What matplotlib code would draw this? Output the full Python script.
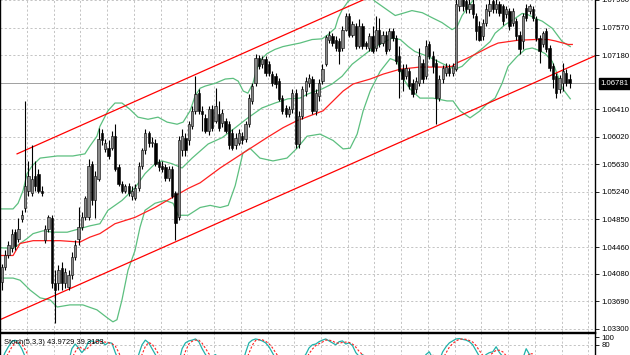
import matplotlib
matplotlib.use('Agg')
import matplotlib.pyplot as plt
import numpy as np

plt.rcParams['font.family'] = ['Liberation Sans', 'DejaVu Sans']

# ---------------- data (EURUSD-like candles) ----------------
opens = [
 1.0396, 1.0418, 1.0434, 1.0444, 1.0467, 1.0458, 1.0485, 1.0501, 1.0526, 1.0523,
 1.0547, 1.0550, 1.0526, 1.0456, 1.0472, 1.0487, 1.0395, 1.0395, 1.0416, 1.0395,
 1.0389, 1.0406, 1.0432, 1.0458, 1.0474, 1.0488, 1.0488, 1.0564, 1.0512, 1.0543,
 1.0607, 1.0585, 1.0587, 1.0587, 1.0604, 1.0559, 1.0535, 1.0526, 1.0533, 1.0519,
 1.0516, 1.0530, 1.0561, 1.0583, 1.0607, 1.0594, 1.0594, 1.0566, 1.0561, 1.0559,
 1.0544, 1.0557, 1.0522, 1.0488, 1.0583, 1.0601, 1.0597, 1.0618, 1.0639, 1.0664,
 1.0639, 1.0629, 1.0611, 1.0642, 1.0625, 1.0635, 1.0622, 1.0625, 1.0621, 1.0608,
 1.0590, 1.0594, 1.0604, 1.0599, 1.0621, 1.0653, 1.0678, 1.0714, 1.0705, 1.0712,
 1.0705, 1.0691, 1.0688, 1.0681, 1.0657, 1.0643, 1.0635, 1.0642, 1.0664, 1.0592,
 1.0632, 1.0667, 1.0678, 1.0684, 1.0639, 1.0660, 1.0681, 1.0705, 1.0740, 1.0745,
 1.0740, 1.0738, 1.0728, 1.0754, 1.0773, 1.0747, 1.0759, 1.0731, 1.0759, 1.0735,
 1.0728, 1.0745, 1.0728, 1.0754, 1.0735, 1.0747, 1.0726, 1.0752, 1.0742, 1.0716,
 1.0698, 1.0688, 1.0695, 1.0678, 1.0670, 1.0678, 1.0707, 1.0688, 1.0733, 1.0716,
 1.0707, 1.0657, 1.0684, 1.0692, 1.0700, 1.0692, 1.0698, 1.0787, 1.0797, 1.0794,
 1.0783, 1.0791, 1.0773, 1.0759, 1.0745, 1.0763, 1.0780, 1.0794, 1.0783, 1.0790,
 1.0787, 1.0776, 1.0780, 1.0763, 1.0766, 1.0747, 1.0738, 1.0784, 1.0780, 1.0783,
 1.0769, 1.0742, 1.0733, 1.0752, 1.0728, 1.0702, 1.0688, 1.0670, 1.0678, 1.0692,
 1.0684]
highs = [
 1.0422, 1.0442, 1.0454, 1.0472, 1.0472, 1.0487, 1.0498, 1.0653, 1.0568, 1.0590,
 1.0568, 1.0557, 1.0532, 1.0477, 1.0492, 1.0491, 1.0413, 1.0420, 1.0425, 1.0416,
 1.0413, 1.0439, 1.0456, 1.0502, 1.0495, 1.0519, 1.0571, 1.0568, 1.0554, 1.0615,
 1.0613, 1.0599, 1.0597, 1.0611, 1.0621, 1.0564, 1.0540, 1.0536, 1.0537, 1.0532,
 1.0536, 1.0566, 1.0587, 1.0613, 1.0611, 1.0602, 1.0599, 1.0571, 1.0568, 1.0564,
 1.0561, 1.0561, 1.0526, 1.0604, 1.0613, 1.0607, 1.0625, 1.0646, 1.0688, 1.0670,
 1.0646, 1.0635, 1.0646, 1.0647, 1.0671, 1.0653, 1.0642, 1.0629, 1.0625, 1.0613,
 1.0607, 1.0613, 1.0609, 1.0625, 1.0663, 1.0678, 1.0719, 1.0718, 1.0716, 1.0716,
 1.0709, 1.0695, 1.0692, 1.0685, 1.0661, 1.0647, 1.0646, 1.0670, 1.0670, 1.0639,
 1.0674, 1.0687, 1.0691, 1.0688, 1.0670, 1.0684, 1.0705, 1.0747, 1.0752, 1.0749,
 1.0745, 1.0742, 1.0759, 1.0777, 1.0777, 1.0766, 1.0763, 1.0769, 1.0763, 1.0738,
 1.0749, 1.0759, 1.0773, 1.0770, 1.0752, 1.0752, 1.0756, 1.0756, 1.0747, 1.0731,
 1.0705, 1.0705, 1.0700, 1.0684, 1.0687, 1.0728, 1.0712, 1.0740, 1.0738, 1.0724,
 1.0712, 1.0690, 1.0704, 1.0707, 1.0705, 1.0707, 1.0801, 1.0805, 1.0805, 1.0802,
 1.0800, 1.0798, 1.0777, 1.0766, 1.0769, 1.0790, 1.0798, 1.0801, 1.0797, 1.0794,
 1.0791, 1.0788, 1.0785, 1.0784, 1.0771, 1.0752, 1.0777, 1.0791, 1.0791, 1.0787,
 1.0773, 1.0747, 1.0752, 1.0756, 1.0732, 1.0707, 1.0692, 1.0690, 1.0707, 1.0698,
 1.0691]
lows = [
 1.0385, 1.0413, 1.0430, 1.0439, 1.0442, 1.0453, 1.0481, 1.0495, 1.0519, 1.0518,
 1.0526, 1.0522, 1.0518, 1.0451, 1.0467, 1.0388, 1.0339, 1.0385, 1.0385, 1.0388,
 1.0385, 1.0401, 1.0427, 1.0449, 1.0470, 1.0484, 1.0484, 1.0505, 1.0487, 1.0540,
 1.0590, 1.0580, 1.0571, 1.0583, 1.0554, 1.0532, 1.0522, 1.0523, 1.0518, 1.0512,
 1.0512, 1.0526, 1.0557, 1.0578, 1.0588, 1.0588, 1.0561, 1.0554, 1.0552, 1.0540,
 1.0540, 1.0515, 1.0456, 1.0484, 1.0575, 1.0575, 1.0590, 1.0613, 1.0635, 1.0635,
 1.0611, 1.0607, 1.0605, 1.0611, 1.0622, 1.0611, 1.0616, 1.0607, 1.0585, 1.0583,
 1.0585, 1.0590, 1.0592, 1.0595, 1.0616, 1.0649, 1.0674, 1.0698, 1.0700, 1.0688,
 1.0688, 1.0674, 1.0671, 1.0653, 1.0635, 1.0630, 1.0630, 1.0636, 1.0587, 1.0587,
 1.0628, 1.0660, 1.0673, 1.0635, 1.0633, 1.0653, 1.0677, 1.0702, 1.0735, 1.0731,
 1.0724, 1.0705, 1.0724, 1.0752, 1.0743, 1.0743, 1.0726, 1.0728, 1.0726, 1.0726,
 1.0724, 1.0721, 1.0724, 1.0729, 1.0731, 1.0719, 1.0724, 1.0738, 1.0705, 1.0657,
 1.0667, 1.0684, 1.0670, 1.0659, 1.0664, 1.0674, 1.0678, 1.0684, 1.0712, 1.0692,
 1.0621, 1.0653, 1.0678, 1.0688, 1.0688, 1.0688, 1.0695, 1.0780, 1.0780, 1.0777,
 1.0777, 1.0771, 1.0740, 1.0738, 1.0740, 1.0759, 1.0774, 1.0777, 1.0777, 1.0773,
 1.0760, 1.0770, 1.0754, 1.0759, 1.0740, 1.0719, 1.0726, 1.0766, 1.0776, 1.0766,
 1.0738, 1.0707, 1.0729, 1.0722, 1.0695, 1.0671, 1.0657, 1.0664, 1.0667, 1.0674,
 1.0671]
closes = [
 1.0418, 1.0434, 1.0449, 1.0465, 1.0447, 1.0472, 1.0492, 1.0533, 1.0546, 1.0543,
 1.0532, 1.0526, 1.0523, 1.0472, 1.0488, 1.0395, 1.0385, 1.0413, 1.0395, 1.0411,
 1.0406, 1.0432, 1.0449, 1.0474, 1.0488, 1.0515, 1.0561, 1.0512, 1.0547, 1.0599,
 1.0597, 1.0594, 1.0575, 1.0604, 1.0557, 1.0536, 1.0526, 1.0532, 1.0523, 1.0526,
 1.0530, 1.0561, 1.0583, 1.0607, 1.0594, 1.0595, 1.0564, 1.0559, 1.0557, 1.0544,
 1.0557, 1.0519, 1.0480, 1.0597, 1.0604, 1.0583, 1.0621, 1.0639, 1.0663, 1.0639,
 1.0635, 1.0611, 1.0642, 1.0615, 1.0646, 1.0615, 1.0636, 1.0611, 1.0590, 1.0587,
 1.0601, 1.0607, 1.0597, 1.0621, 1.0657, 1.0674, 1.0714, 1.0702, 1.0712, 1.0692,
 1.0692, 1.0678, 1.0677, 1.0656, 1.0639, 1.0635, 1.0642, 1.0664, 1.0592, 1.0632,
 1.0670, 1.0681, 1.0685, 1.0639, 1.0664, 1.0678, 1.0698, 1.0743, 1.0747, 1.0735,
 1.0728, 1.0724, 1.0754, 1.0773, 1.0747, 1.0762, 1.0731, 1.0759, 1.0731, 1.0731,
 1.0745, 1.0724, 1.0754, 1.0733, 1.0747, 1.0724, 1.0752, 1.0742, 1.0709, 1.0695,
 1.0684, 1.0700, 1.0674, 1.0663, 1.0681, 1.0716, 1.0684, 1.0731, 1.0716, 1.0702,
 1.0657, 1.0684, 1.0700, 1.0701, 1.0692, 1.0702, 1.0790, 1.0798, 1.0787, 1.0783,
 1.0791, 1.0776, 1.0752, 1.0740, 1.0763, 1.0783, 1.0791, 1.0783, 1.0790, 1.0777,
 1.0766, 1.0783, 1.0759, 1.0780, 1.0745, 1.0726, 1.0773, 1.0770, 1.0787, 1.0770,
 1.0742, 1.0724, 1.0749, 1.0726, 1.0700, 1.0684, 1.0664, 1.0685, 1.0695, 1.0678,
 1.06781]

# Bollinger bands (read at bar positions)
bb_up_bar = [-0.5, 3.4, 4.9, 6.4, 7.6, 9.1, 11.5, 16.6, 21.3, 24.9, 26.4, 28.5, 29.4, 31.8,
             33.9, 36.0, 38.4, 40.8, 43.8, 46.8, 49.5, 52.5, 54.3, 56.4, 57.9, 59.4, 60.9,
             63.9, 66.9, 69.3, 70.8, 72.3, 73.7, 75.2, 76.4, 77.9, 79.4, 81.8, 84.2, 87.2,
             89.3, 92.9, 95.9, 97.7, 99.8, 100.7, 101.9, 103.7, 107.3, 110.3, 111.8, 114.8,
             117.8, 120.7, 122.8, 125.9, 128.8, 131.8, 134.8, 136.3, 137.8, 140.2, 142.0,
             146.2, 152.2, 158.2, 164.2, 170.2]
bb_upper = [1.0500, 1.0500, 1.0508, 1.0526, 1.0550, 1.0561, 1.0572, 1.0575, 1.0575, 1.0578,
            1.0589, 1.0603, 1.0617, 1.0639, 1.0650, 1.0650, 1.0641, 1.0630, 1.0627, 1.0630,
            1.0623, 1.0620, 1.0623, 1.0639, 1.0660, 1.0671, 1.0674, 1.0678, 1.0684, 1.0685,
            1.0681, 1.0667, 1.0664, 1.0678, 1.0699, 1.0713, 1.0720, 1.0726, 1.0730, 1.0733,
            1.0735, 1.0740, 1.0741, 1.0747, 1.0756, 1.0770, 1.0782, 1.0794, 1.0805, 1.0802,
            1.0794, 1.0784, 1.0774, 1.0778, 1.0781, 1.0778, 1.0771, 1.0764, 1.0754, 1.0758,
            1.0774, 1.0790, 1.0801, 1.0825, 1.0822, 1.0823, 1.0808, 1.0805]
bb_mid_bar = [-0.5, 3.4, 5.5, 7.6, 9.4, 12.4, 15.4, 19.6, 23.4, 26.4, 29.4, 31.8, 36.0, 39.9,
              42.9, 45.9, 48.0, 51.0, 54.0, 57.0, 59.4, 61.8, 66.0, 69.9, 73.7, 77.9, 81.8,
              85.7, 89.3, 91.7, 95.9, 98.9, 101.9, 104.9, 107.9, 110.9, 113.9, 116.9, 119.3,
              121.7, 123.7, 127.6, 130.6, 133.6, 135.7, 137.8, 140.8, 143.8, 146.2, 147.7,
              150.7, 153.7, 155.8, 157.6, 159.7, 161.8, 164.8, 167.8, 170.2]
bb_middle = [1.0445, 1.0444, 1.0451, 1.0458, 1.0465, 1.0469, 1.0467, 1.0467, 1.0472, 1.0476,
             1.0479, 1.0498, 1.0512, 1.0530, 1.0550, 1.0564, 1.0568, 1.0564, 1.0558, 1.0572,
             1.0582, 1.0592, 1.0601, 1.0615, 1.0629, 1.0643, 1.0650, 1.0656, 1.0657, 1.0663,
             1.0670, 1.0677, 1.0688, 1.0705, 1.0716, 1.0727, 1.0735, 1.0742, 1.0740, 1.0730,
             1.0723, 1.0716, 1.0709, 1.0702, 1.0698, 1.0702, 1.0716, 1.0727, 1.0737, 1.0749,
             1.0761, 1.0770, 1.0777, 1.0775, 1.0770, 1.0766, 1.0756, 1.0737, 1.0730]
bb_low_bar = [-0.5, 3.4, 5.5, 8.5, 11.5, 14.5, 16.6, 20.4, 24.3, 28.5, 31.8, 33.3, 34.5, 36.0,
              37.8, 39.9, 41.4, 42.9, 45.9, 48.9, 51.3, 52.8, 55.8, 59.4, 62.4, 65.4, 67.8,
              69.9, 72.2, 74.3, 77.3, 81.2, 85.4, 88.4, 91.4, 95.3, 99.2, 102.2, 104.3, 106.4,
              108.2, 110.3, 113.3, 116.3, 118.4, 120.2, 122.2, 125.2, 129.1, 133.3, 135.1,
              137.2, 140.2, 143.2, 145.3, 147.7, 149.8, 151.6, 154.3, 156.7, 158.8, 160.6,
              162.7, 164.8, 166.3, 167.8, 170.2]
bb_lower = [1.0402, 1.0402, 1.0399, 1.0385, 1.0374, 1.0371, 1.0361, 1.0364, 1.0364, 1.0357,
            1.0345, 1.0340, 1.0343, 1.0371, 1.0413, 1.0441, 1.0474, 1.0498, 1.0508, 1.0512,
            1.0508, 1.0491, 1.0491, 1.0502, 1.0505, 1.0502, 1.0505, 1.0533, 1.0579, 1.0586,
            1.0572, 1.0568, 1.0572, 1.0586, 1.0603, 1.0606, 1.0597, 1.0585, 1.0586, 1.0606,
            1.0639, 1.0667, 1.0695, 1.0713, 1.0709, 1.0685, 1.0670, 1.0657, 1.0657, 1.0653,
            1.0653, 1.0639, 1.0629, 1.0639, 1.0649, 1.0657, 1.0678, 1.0702, 1.0716, 1.0726,
            1.0728, 1.0725, 1.0720, 1.0709, 1.0691, 1.0671, 1.0656]
# red moving average
ma_bar = [-0.5, 3.4, 5.5, 9.4, 17.5, 23.4, 26.4, 29.4, 33.9, 39.9, 45.9, 51.0, 55.8, 59.4,
          65.4, 72.2, 79.4, 84.2, 88.4, 92.3, 96.2, 99.2, 102.2, 105.2, 110.3, 114.2, 119.3,
          125.2, 132.7, 134.8, 136.3, 138.7, 141.7, 146.2, 148.6, 154.6, 159.7, 163.6, 165.7,
          169.6, 170.8]
ma_values = [1.0434, 1.0434, 1.0451, 1.0455, 1.0455, 1.0453, 1.0460, 1.0465, 1.0479, 1.0488,
             1.0502, 1.0516, 1.0529, 1.0537, 1.0558, 1.0579, 1.0601, 1.0615, 1.0625, 1.0632,
             1.0639, 1.0653, 1.0667, 1.0677, 1.0684, 1.0691, 1.0698, 1.0701, 1.0701, 1.0702,
             1.0707, 1.0712, 1.0719, 1.0730, 1.0735, 1.0739, 1.0740, 1.0740, 1.0738, 1.0733,
             1.0733]
# channel trend lines: (bar, price) anchors
channel_upper = [(4.6, 1.0578), (120.0, 1.0821)]
channel_lower = [(-1.0, 1.0342), (180.0, 1.0722)]

# stochastic (5,3,3)
stoch_main = [
 40, 60, 75, 88, 92, 85, 70, 50, 35, 25,
 30, 28, 20, 15, 25, 30, 10, 20, 25, 30,
 35, 70, 82, 72, 60, 70, 88, 90, 85, 92,
 88, 80, 86, 84, 60, 40, 25, 20, 15, 18,
 30, 55, 80, 92, 85, 70, 55, 40, 30, 25,
 20, 15, 10, 35, 70, 85, 90, 92, 95, 88,
 70, 55, 45, 50, 55, 45, 40, 30, 20, 15,
 20, 25, 30, 60, 85, 92, 95, 93, 90, 85,
 75, 60, 45, 35, 25, 20, 22, 30, 15, 25,
 45, 55, 72, 80, 82, 88, 92, 95, 90, 85,
 80, 88, 90, 82, 85, 78, 60, 50, 55, 45,
 50, 40, 45, 40, 35, 30, 40, 35, 25, 20,
 22, 25, 20, 15, 25, 45, 40, 55, 62, 45,
 30, 40, 62, 75, 85, 90, 95, 96, 94, 92,
 88, 80, 65, 50, 45, 55, 60, 62, 75, 60,
 50, 45, 40, 35, 30, 25, 45, 70, 55, 45,
 30, 20, 25, 20, 15, 10, 8, 20, 30, 35,
 43.9729]
stoch_signal = [
 35, 45, 58, 74, 85, 88, 82, 68, 52, 37,
 30, 28, 26, 21, 20, 23, 22, 20, 18, 25,
 30, 45, 62, 75, 71, 67, 73, 83, 88, 89,
 88, 87, 85, 83, 77, 61, 42, 28, 20, 18,
 21, 34, 55, 76, 86, 82, 70, 55, 42, 32,
 25, 20, 15, 20, 38, 63, 82, 89, 92, 92,
 84, 71, 57, 50, 50, 50, 47, 38, 30, 22,
 18, 20, 25, 38, 58, 79, 91, 93, 93, 89,
 83, 73, 60, 47, 35, 27, 22, 24, 22, 23,
 28, 42, 57, 69, 78, 83, 87, 92, 92, 90,
 85, 84, 86, 87, 86, 82, 74, 63, 55, 50,
 50, 45, 45, 42, 40, 35, 35, 35, 33, 27,
 22, 22, 22, 20, 20, 28, 37, 47, 52, 54,
 46, 38, 44, 59, 74, 83, 90, 94, 95, 94,
 91, 87, 78, 65, 53, 50, 53, 59, 66, 66,
 62, 52, 45, 40, 35, 30, 33, 47, 57, 57,
 43, 32, 25, 22, 20, 15, 11, 13, 19, 28,
 39.3103]

price_ticks = [1.03300, 1.03690, 1.04080, 1.04460, 1.04850, 1.05240, 1.05630,
               1.06020, 1.06410, 1.07180, 1.07570, 1.07960]
current_price = 1.06781
stoch_label = 'Stoch(5,3,3) 43.9729 39.3103'

# ---------------- figure ----------------
W, H = 630, 355
fig = plt.figure(figsize=(W / 100, H / 100), dpi=100, facecolor='white')
ax = fig.add_axes([0, 23 / H, 595 / W, 332 / H])
ax2 = fig.add_axes([0, -25 / H, 595 / W, 47 / H])

o = np.array(opens); hi = np.array(highs); lo = np.array(lows); c = np.array(closes)
x = np.arange(len(c))
xmin, xmax = -0.51, 177.6

grid_kw = dict(color='#c4c4c4', linestyle=(0, (2.2, 2.2)), linewidth=0.7)
vgrid = [8 * k - 0.42 for k in range(1, 23)]

ax.set_xlim(xmin, xmax)
ax.set_ylim(1.03256, 1.07937)
ax.set_xticks(vgrid)
ax.tick_params(axis='x', length=0, labelbottom=False)
ax.yaxis.tick_right()
ax.set_yticks(price_ticks)
ax.set_yticklabels([f'{t:.5f}' for t in price_ticks])
ax.tick_params(axis='y', length=3, width=0.6, pad=1.5, labelsize=5.6, colors='black')
ax.grid(True, **grid_kw)
ax.set_axisbelow(True)
for s in ['left', 'right', 'bottom']:
    ax.spines[s].set_color('black'); ax.spines[s].set_linewidth(1.0)
ax.spines['top'].set_visible(False)

# current price line
ax.axhline(current_price, color='#a0a0a0', lw=0.7, zorder=1)

# indicators
bb_col = '#5cbf7f'
ax.plot(bb_up_bar, bb_upper, color=bb_col, lw=0.9, zorder=2)
ax.plot(bb_mid_bar, bb_middle, color=bb_col, lw=0.9, zorder=2)
ax.plot(bb_low_bar, bb_lower, color=bb_col, lw=0.9, zorder=2)
ax.plot(ma_bar, ma_values, color='#ff2020', lw=0.9, zorder=2)
(cx0, cy0), (cx1, cy1) = channel_upper
ax.plot([cx0, cx1], [cy0, cy1], color='#ff0000', lw=0.9, zorder=2)
ax.axline(channel_lower[0], channel_lower[1], color='#ff0000', lw=0.9, zorder=2)

# candles
up = c >= o
ax.vlines(x, lo, hi, color='black', lw=0.8, zorder=3)
bottom = np.minimum(o, c)
height = np.maximum(np.abs(c - o), 0.00003)
ax.bar(x, height, bottom=bottom, width=0.68,
       color=np.where(up, '#8a8a8a', '#000000'), edgecolor='black', linewidth=0.4, zorder=4)

# current price box
ax.annotate(f'{current_price:.5f}', xy=(1.0, current_price), xycoords=('axes fraction', 'data'),
            xytext=(4, 0), textcoords='offset points', ha='left', va='center',
            fontsize=5.6, color='white',
            bbox=dict(boxstyle='square,pad=0.25', fc='black', ec='black'), annotation_clip=False)

# stochastic panel
ax2.set_xlim(xmin, xmax)
ax2.set_ylim(-10.3, 110.3)
ax2.set_xticks(vgrid)
ax2.tick_params(axis='x', length=0, labelbottom=False)
ax2.grid(True, axis='x', **grid_kw)
ax2.axhline(80, **grid_kw, zorder=0)
ax2.set_axisbelow(True)
ax2.yaxis.tick_right()
ax2.set_yticks([100, 80])
ax2.set_yticklabels(['100', '80'])
ax2.tick_params(axis='y', length=3, width=0.6, pad=1.5, labelsize=5.6)
for s in ['left', 'right', 'top']:
    ax2.spines[s].set_color('black'); ax2.spines[s].set_linewidth(1.0)
ax2.plot(x, stoch_main, color='#20b2aa', lw=0.9)
ax2.plot(x, stoch_signal, color='#ff2020', lw=0.8, linestyle=(0, (2, 1.6)))
ax2.text(4 / 595, 0.80, stoch_label, transform=ax2.transAxes, fontsize=5.4,
         ha='left', va='center', color='black')

fig.savefig('out.png', dpi=100, facecolor='white')
